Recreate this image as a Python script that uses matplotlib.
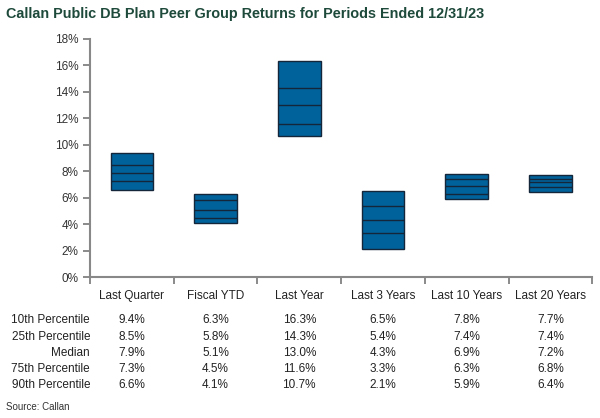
import matplotlib
matplotlib.use("Agg")
import matplotlib.pyplot as plt
from matplotlib.transforms import blended_transform_factory

plt.rcParams["font.family"] = ["Liberation Sans", "DejaVu Sans"]

# Peer group data (percent)
periods = ["Last Quarter", "Fiscal YTD", "Last Year", "Last 3 Years", "Last 10 Years", "Last 20 Years"]
p10 = [9.4, 6.3, 16.3, 6.5, 7.8, 7.7]
p25 = [8.5, 5.8, 14.3, 5.4, 7.4, 7.4]
median = [7.9, 5.1, 13.0, 4.3, 6.9, 7.2]
p75 = [7.3, 4.5, 11.6, 3.3, 6.3, 6.8]
p90 = [6.6, 4.1, 10.7, 2.1, 5.9, 6.4]
row_labels = ["10th Percentile", "25th Percentile", "Median", "75th Percentile", "90th Percentile"]
yticks = [0, 2, 4, 6, 8, 10, 12, 14, 16, 18]

fig = plt.figure(figsize=(6, 4.18), dpi=100)
ax = fig.add_axes([0.15, 0.337, 0.837, 0.570])

box_w = 0.51
fill = "#00629b"
edge = "#13263a"
for i in range(len(periods)):
    ax.bar(i, p10[i] - p90[i], bottom=p90[i], width=box_w, color=fill,
           edgecolor=edge, linewidth=1.0, zorder=2)
    for v in (p25[i], median[i], p75[i]):
        ax.hlines(v, i - box_w / 2, i + box_w / 2, color=edge, linewidth=1.0, zorder=3)

ax.set_xlim(-0.5, len(periods) - 0.5)
ax.set_ylim(0, 18)
ax.set_yticks(yticks)
ax.set_yticklabels([f"{t}%" for t in yticks])
ax.set_xticks([i + 0.5 for i in range(-1, len(periods))])
ax.set_xticklabels([])
ax.tick_params(axis="y", colors="#777777", labelcolor="#333333", labelsize=8.5, length=5, width=1.2)
ax.tick_params(axis="x", colors="#777777", length=5, width=1.2)
for s in ("top", "right"):
    ax.spines[s].set_visible(False)
for s in ("left", "bottom"):
    ax.spines[s].set_color("#888888")
    ax.spines[s].set_linewidth(1.5)

# Table beneath the chart
tr = blended_transform_factory(ax.transData, fig.transFigure)
header_y = 1 - 296 / 418
for i, p in enumerate(periods):
    ax.text(i, header_y, p, transform=tr, ha="center", va="center", fontsize=8.5, color="#222222")

rows = [p10, p25, median, p75, p90]
row_ys = [320, 337, 353, 369, 385]
for lbl, vals, ypx in zip(row_labels, rows, row_ys):
    fy = 1 - ypx / 418
    fig.text(90 / 600, fy, lbl, ha="right", va="center", fontsize=8.5, color="#222222")
    for i, v in enumerate(vals):
        ax.text(i, fy, f"{v:.1f}%", transform=tr, ha="center", va="center", fontsize=8.5, color="#222222")

fig.text(6 / 600, 1 - 14 / 418, "Callan Public DB Plan Peer Group Returns for Periods Ended 12/31/23",
         ha="left", va="center", fontsize=10.4, fontweight="bold", color="#1e4a3b")
fig.text(6 / 600, 1 - 407 / 418, "Source: Callan", ha="left", va="center", fontsize=7, color="#333333")

fig.savefig("out.png", dpi=100)
